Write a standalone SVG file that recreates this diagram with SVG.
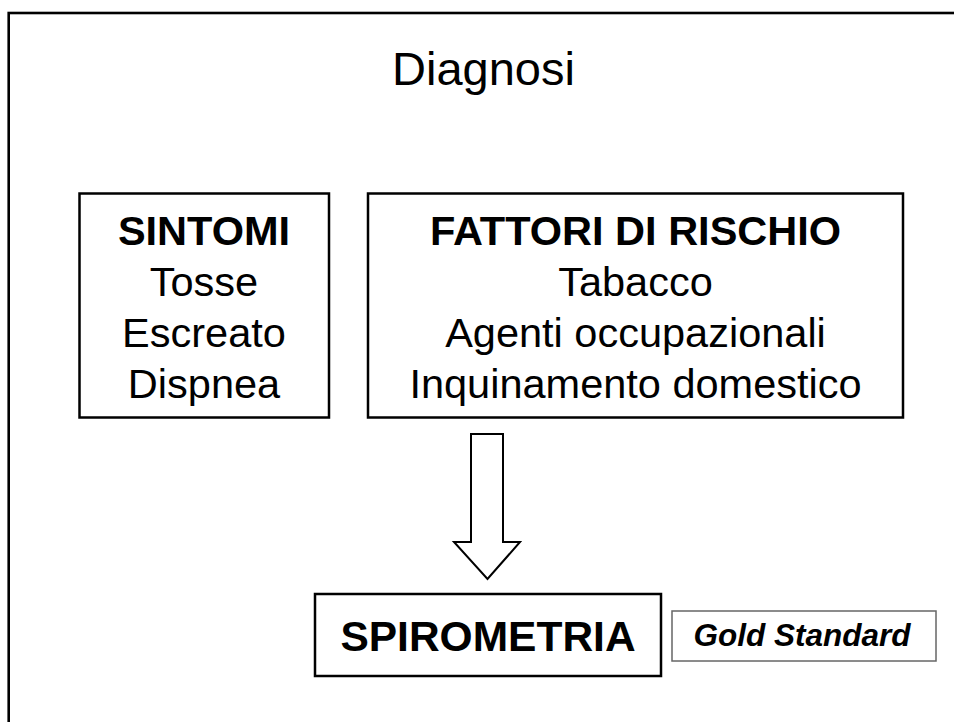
<svg xmlns="http://www.w3.org/2000/svg" width="954" height="722" viewBox="0 0 954 722">
<style>
  .t { font-family: "Liberation Sans", Arial, sans-serif; fill: #000; text-anchor: middle; }
  .b { font-weight: bold; }
  .box { fill: #fff; stroke: #000; stroke-width: 2.5; }
</style>
<rect width="954" height="722" fill="#fff"/>
<rect id="frame" x="8.7" y="13" width="980" height="740" fill="none" stroke="#000" stroke-width="2.6"/>
<text class="t" x="483.5" y="85" font-size="47">Diagnosi</text>
<g id="sintomi">
  <rect class="box" x="79.5" y="193.5" width="249.5" height="224"/>
  <text class="t b" x="204" y="244.5" font-size="41.5">SINTOMI</text>
  <text class="t" x="204" y="295.5" font-size="41.5">Tosse</text>
  <text class="t" x="204" y="346.5" font-size="41.5">Escreato</text>
  <text class="t" x="204" y="397.5" font-size="41.5">Dispnea</text>
</g>
<g id="fattori">
  <rect class="box" x="368" y="193.5" width="535" height="224"/>
  <text class="t b" x="635.5" y="244.5" font-size="41.5">FATTORI DI RISCHIO</text>
  <text class="t" x="635.5" y="295.5" font-size="41.5">Tabacco</text>
  <text class="t" x="635.5" y="346.5" font-size="41.5">Agenti occupazionali</text>
  <text class="t" x="635.5" y="397.5" font-size="41.5">Inquinamento domestico</text>
</g>
<g id="connectors">
  <polygon points="471,434 503,434 503,542 520,542 487.5,579 454,542 471,542" fill="#fff" stroke="#000" stroke-width="2"/>
</g>
<g id="spirometria">
  <rect class="box" x="315" y="594" width="346" height="82"/>
  <text class="t b" x="488" y="651" font-size="42.5">SPIROMETRIA</text>
</g>
<g id="gold">
  <rect x="672" y="611" width="264" height="50" fill="#fff" stroke="#666" stroke-width="1.5"/>
  <text class="t b" x="802" y="646" font-size="31.5" font-style="italic">Gold Standard</text>
</g>
</svg>
